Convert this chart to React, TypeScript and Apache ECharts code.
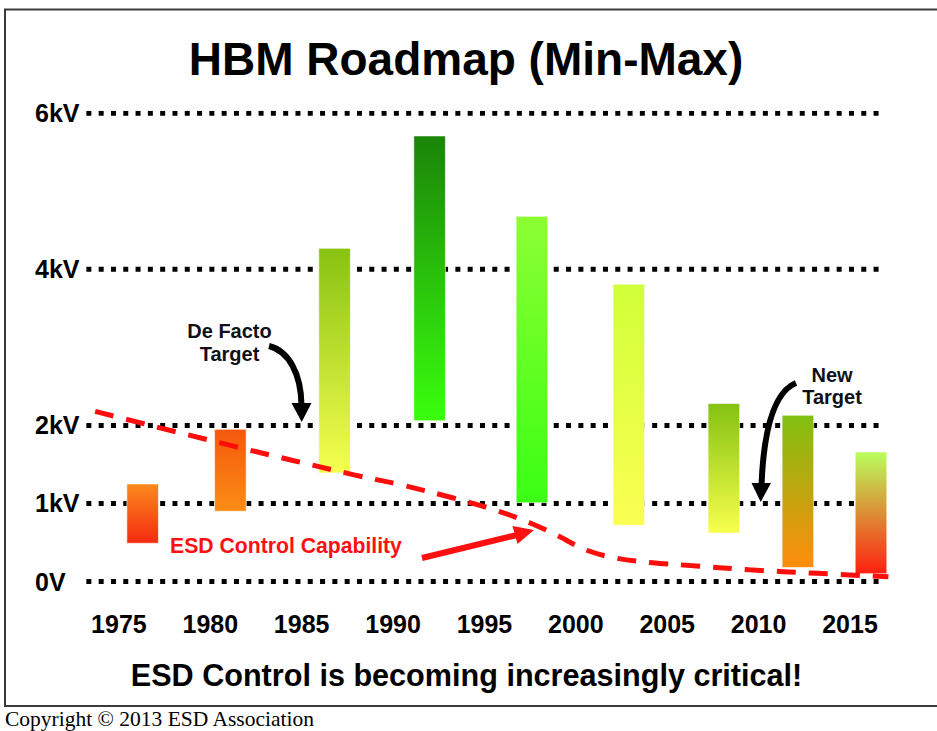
import React, { useEffect, useRef } from 'react';
import * as echarts from 'echarts';

// ---- data ----
const barYears = [1976.3, 1981.1, 1986.8, 1992.0, 1997.6, 2002.9, 2008.1, 2012.15, 2016.15];
const barMinKV = [0.49, 0.9, 1.39, 2.06, 1.01, 0.72, 0.62, 0.18, 0.1];
const barMaxKV = [1.25, 1.95, 4.27, 5.71, 4.68, 3.81, 2.28, 2.13, 1.66];

const esdYears = [1973.7, 1981.0, 1987.8, 1990.4, 1993.3, 1995.8, 1997.5, 1998.9, 2000.6, 2002.2, 2004.2, 2006.6, 2009.5, 2013.2, 2017.1];
const esdKV = [2.18, 1.75, 1.37, 1.24, 1.07, 0.9, 0.75, 0.6, 0.4, 0.3, 0.24, 0.2, 0.15, 0.105, 0.06];

const yTickValues = [0, 1, 2, 4, 6];
const xTickValues = [1975, 1980, 1985, 1990, 1995, 2000, 2005, 2010, 2015];

// ---- styles ----
const barTopColors = ['#fb8a1e', '#f5580c', '#88c212', '#1a8408', '#8cff32', '#d0ff38', '#84c212', '#80c010', '#b8ff5c'];
const barBottomColors = ['#f52a10', '#fb8d16', '#f6ff50', '#3aff0e', '#3aff14', '#fbff52', '#f8ff4c', '#ff8c0c', '#ff2010'];

const SANS = '"Liberation Sans", Arial, Helvetica, sans-serif';
const SERIF = '"Liberation Serif", "Times New Roman", serif';
const X_MIN = 1973.2;
const X_MAX = 2017.2;
const GRID_END = 2016.65;
const BAR_HALF = 0.865;

function txt(text: string, x: number, y: number, size: number, opts: any = {}) {
  return {
    type: 'text',
    silent: true,
    z: 100,
    style: {
      text,
      x,
      y,
      fill: opts.fill || '#000',
      fontSize: size,
      fontWeight: opts.weight || 'bold',
      fontFamily: opts.family || SANS,
      textAlign: opts.align || 'center',
      align: opts.align || 'center',
      textVerticalAlign: 'middle',
      verticalAlign: 'middle',
    },
  };
}

export default function App() {
  const ref = useRef<HTMLDivElement>(null);

  useEffect(() => {
    if (!ref.current) return;
    const chart = echarts.init(ref.current, null, { renderer: 'svg' });

    const gridSeries = yTickValues.map((v) => ({
      type: 'line',
      silent: true,
      symbol: 'none',
      z: 1,
      data: [
        [X_MIN + 0.02, v],
        [GRID_END, v],
      ],
      lineStyle: { color: '#000', width: 5, type: [5, 7.3], cap: 'butt' },
    }));

    const option: any = {
      animation: false,
      backgroundColor: '#fff',
      grid: { left: 86, right: 46.8, top: 113.3, bottom: 149.5, containLabel: false, outerBoundsMode: 'none' },
      xAxis: {
        type: 'value',
        min: X_MIN,
        max: X_MAX,
        axisLine: { show: false },
        axisTick: { show: false },
        splitLine: { show: false },
        axisLabel: {
          customValues: xTickValues,
          formatter: (v: number) => (xTickValues.includes(v) ? String(v) : ''),
          margin: 30,
          fontSize: 25,
          fontWeight: 'bold',
          color: '#000',
          fontFamily: SANS,
        },
      },
      yAxis: {
        type: 'value',
        min: 0,
        max: 6,
        interval: 1,
        axisLine: { show: false },
        axisTick: { show: false },
        splitLine: { show: false },
        axisLabel: {
          customValues: yTickValues,
          formatter: (v: number) => (yTickValues.includes(v) ? (v === 0 ? '0V' : v + 'kV') : ''),
          align: 'left',
          margin: 51,
          fontSize: 25,
          fontWeight: 'bold',
          color: '#000',
          fontFamily: SANS,
        },
      },
      series: [
        ...gridSeries,
        {
          type: 'custom',
          z: 2,
          silent: true,
          encode: { x: 0, y: [1, 2] },
          data: barYears.map((y, i) => [y, barMinKV[i], barMaxKV[i]]),
          renderItem: (params: any, api: any) => {
            const x = api.value(0);
            const lo = api.value(1);
            const hi = api.value(2);
            const p1 = api.coord([x - BAR_HALF, hi]);
            const p2 = api.coord([x + BAR_HALF, lo]);
            const i = params.dataIndex;
            return {
              type: 'rect',
              shape: { x: p1[0], y: p1[1], width: p2[0] - p1[0], height: p2[1] - p1[1] },
              style: {
                fill: new echarts.graphic.LinearGradient(0, 0, 0, 1, [
                  { offset: 0, color: barTopColors[i] },
                  { offset: 1, color: barBottomColors[i] },
                ]),
                stroke: 'rgba(255,255,255,0.6)',
                lineWidth: 1,
              },
            };
          },
        },
        {
          type: 'line',
          name: 'ESD Control Capability',
          z: 3,
          silent: true,
          symbol: 'none',
          smooth: 0.35,
          data: esdYears.map((y, i) => [y, esdKV[i]]),
          lineStyle: { color: '#ff0d0d', width: 5, type: [19, 13], cap: 'butt' },
        },
      ],
      graphic: [
        {
          type: 'rect',
          silent: true,
          z: 100,
          shape: { x: 5, y: 9.5, width: 945, height: 696.5 },
          style: { fill: 'none', stroke: '#3a3a3a', lineWidth: 2 },
        },
        txt('HBM Roadmap (Min-Max)', 466, 59, 46),
        txt('ESD Control is becoming increasingly critical!', 466.5, 675, 30.6),
        txt('Copyright \u00a9 2013 ESD Association', 5, 718.5, 21.5, { align: 'left', weight: 'normal', family: SERIF }),
        txt('De Facto', 229.5, 331, 20, { fill: '#101018' }),
        txt('Target', 229.5, 354, 20, { fill: '#101018' }),
        txt('New', 832, 375, 20, { fill: '#101018' }),
        txt('Target', 832, 396.5, 20, { fill: '#101018' }),
        txt('ESD Control Capability', 170, 545.5, 21.2, { align: 'left', fill: '#ff1010' }),
        // De Facto arrow
        {
          type: 'bezierCurve',
          silent: true,
          z: 100,
          shape: { x1: 269, y1: 346, cpx1: 289, cpy1: 351, cpx2: 301, cpy2: 374, x2: 301.5, y2: 405 },
          style: { stroke: '#000', lineWidth: 6, fill: 'none' },
        },
        {
          type: 'polygon',
          silent: true,
          z: 100,
          shape: { points: [[291.5, 403], [311.5, 403], [301.7, 422]] },
          style: { fill: '#000' },
        },
        // New Target arrow
        {
          type: 'bezierCurve',
          silent: true,
          z: 100,
          shape: { x1: 796, y1: 383, cpx1: 776, cpy1: 391, cpx2: 764, cpy2: 424, x2: 761.5, y2: 485 },
          style: { stroke: '#000', lineWidth: 6, fill: 'none' },
        },
        {
          type: 'polygon',
          silent: true,
          z: 100,
          shape: { points: [[751.5, 483], [771, 483], [760.7, 502]] },
          style: { fill: '#000' },
        },
        // ESD Control Capability arrow
        {
          type: 'line',
          silent: true,
          z: 100,
          shape: { x1: 422, y1: 558, x2: 517, y2: 535 },
          style: { stroke: '#ff1010', lineWidth: 6 },
        },
        {
          type: 'polygon',
          silent: true,
          z: 100,
          shape: { points: [[512.5, 526], [517.5, 544], [534, 530]] },
          style: { fill: '#ff1010' },
        },
      ],
    };

    chart.setOption(option);
    return () => chart.dispose();
  }, []);

  return (
    <div
      ref={ref}
      style={{ position: 'fixed', left: 0, top: 0, width: 937, height: 731, background: '#fff' }}
    />
  );
}
